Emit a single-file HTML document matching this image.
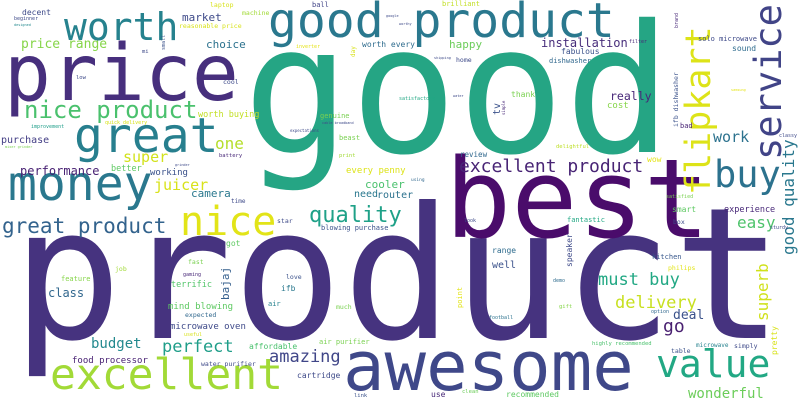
<!DOCTYPE html>
<html>
<head>
<meta charset="utf-8">
<style>
  html,body{margin:0;padding:0;background:#fff;}
  #cloud{display:block;width:800px;height:400px;}
  #cloud text{font-family:"DejaVu Sans Mono","Liberation Mono",monospace;}
</style>
</head>
<body>
<svg id="cloud" width="800" height="400" viewBox="0 0 800 400" xmlns="http://www.w3.org/2000/svg">
  <rect width="800" height="400" fill="#ffffff"/>
</svg>
<script>
// Word cloud data: words and their relative frequencies (font sizes)
const words = ["product","good","best","price","awesome","excellent","money","great","worth","good product",
"nice","value","buy","flipkart","service","nice product","quality","great product","excellent product","good quality",
"must buy","delivery","superb","go","wonderful","deal","easy","amazing","perfect","budget",
"class","bajaj","food processor","mind blowing","microwave oven","terrific","juicer","camera","super","one",
"performance","purchase","price range","decent","market","choice","worth buying","better","working","genuine",
"cooler","every penny","need","router","beast","worth every","happy","installation","fabulous","dishwasher",
"sound","solo microwave","really","cost","thank","tv","work","review","bad","brilliant",
"home","ifb dishwasher","delightful","wow","satisfied","smart","experience","fantastic","speaker","range",
"well","kitchen","philips","box","microwave","simply","table","pretty","highly recommended","recommended",
"use","clean","option","football","demo","gift","look","point","sturdy","feature",
"job","fast","gaming","got","ifb","love","air","much","expected","useful",
"affordable","air purifier","water purifier","cartridge","star","time","blowing purchase","link","laptop","machine",
"ball","reasonable price","beginner","designed","mi","low","cool","inverter","improvement","quick delivery",
"battery","print","cable broadband","expectations","mixer grinder","grinder","filter","shipping","satisfactory","water",
"simple","classy","samsung","using","worthy","google","day","small","brand"];
const sizes = [183,178,110,78,69,43,48,48,38,48,
40,38,37,35,37,24,22,21,18,16,
17,17,16,18,14,13,16,17,17,14,
12,11,9,9,9,8.5,15,11,15,16,
12,10,13,8,11,11,8.5,8.5,9,7,
11,9,10,10,7,8,11,12,8,7,
8,7,11.5,9,8,10,15,7.5,7,7,
6.5,6.5,5.5,8,5,8,8.5,7,8,8,
10,7,6.5,6.5,6,6.5,6.5,8,5.5,8,
8,5.5,5,5,5,5.5,5,7,5,7,
6.5,6.5,5,8,8,6.5,7,6.5,6.5,5,
8,7,6.5,8,6.5,6,7,5.5,6.5,6.5,
7,6.5,5,3.5,5.5,5.5,6.5,5,5,5,
5.5,5.5,3.5,4,3.5,3.5,5,3.5,5,3.5,
4,5,3.5,4.5,3.5,3.5,6,5,5];
const colors = ["#46337f","#25a584","#4a0c6b","#472f7d","#3f4889","#a2da37","#2a788e","#277f8e","#26828e","#2a788e",
"#e2e418","#22a884","#2c728e","#dde318","#414487","#4ac16d","#1fa188","#33638d","#482475","#2a788e",
"#22a884","#c8e020","#d0e11c","#481f70","#6ccd5a","#3b528b","#4ec36b","#404688","#1f9e89","#23898e",
"#31678e","#355f8d","#482173","#5ec962","#3e4989","#52c569","#d8e219","#2a788e","#d2e21b","#b5de2b",
"#482173","#433e85","#86d549","#3e4a89","#3e4a89","#2c728e","#c2df23","#5ec962","#3b528b","#7ad151",
"#4ac16d","#dde318","#2a788e","#2c728e","#7ad151","#2f6c8e","#6ccd5a","#472d7b","#3b528b","#31688e",
"#2f6c8e","#3e4a89","#482878","#86d549","#7ad151","#3b528b","#2c728e","#31688e","#482475","#c2df23",
"#3e4a89","#3b528b","#bddf26","#e5e419","#7ad151","#5ec962","#482878","#22a884","#3e4a89","#2f6c8e",
"#3b528b","#38588c","#e2e418","#3e4a89","#26828e","#3e4989","#3b528b","#d8e219","#4ac16d","#5ec962",
"#482878","#6ccd5a","#31688e","#2c728e","#2f6c8e","#86d549","#3e4a89","#e2e418","#3e4a89","#86d549",
"#a2da37","#7ad151","#482878","#5ec962","#2a788e","#3b528b","#26828e","#7ad151","#31688e","#d8e219",
"#4ac16d","#7ad151","#3e4989","#3e4a89","#3e4a89","#3e4a89","#3b528b","#3b528b","#d8e219","#a2da37",
"#414487","#d8e219","#3e4a89","#23898e","#3e4a89","#3e4a89","#3e4a89","#e5e419","#1f9e89","#d8e219",
"#482878","#a2da37","#3e4a89","#3e4a89","#7ad151","#3e4a89","#482878","#3e4a89","#22a884","#3e4a89",
"#482878","#3e4a89","#e5e419","#31688e","#3e4a89","#3e4a89","#d8e219","#3b528b","#482878"];
</script>
<script>
// Layout (placement of each word): [x, baseline y, rotated]
const layout = [[12,338,0],[243,152,0],[445,237,0],[4,100,0],[343,390,0],[50,389,0],[8,200,0],[74,152,0],[64,40,0],[268,37,0],
[180,235,0],[656,377,0],[714,187,0],[710,195,1],[781,160,1],[24,118,0],[309,222,0],[2,233,0],[459,172,0],[794,255,1],
[598,285,0],[615,308,0],[768,321,1],[663,332,0],[688,398,0],[673,319,0],[737,228,0],[269,362,0],[162,352,0],[91,348,0],
[48,297,0],[229,300,1],[72,363,0],[168,309,0],[170,329,0],[171,287,0],[154,190,0],[191,197,0],[123,162,0],[215,149,0],
[20,175,0],[1,143,0],[21,48,0],[22,15,0],[182,21,0],[206,48,0],[198,117,0],[111,171,0],[150,175,0],[320,118,0],
[365,188,0],[346,173,0],[354,197,0],[377,198,0],[339,140,0],[362,47,0],[449,48,0],[541,47,0],[561,54,0],[549,63,0],
[732,51,0],[698,41,0],[610,100,0],[607,108,0],[511,97,0],[500,115,1],[713,142,0],[460,157,0],[680,128,0],[442,6,0],
[456,62,0],[678,127,1],[556,148,0],[647,162,0],[666,198,0],[672,212,0],[724,212,0],[567,222,0],[572,267,1],[492,253,0],
[492,268,0],[652,259,0],[668,270,0],[673,224,0],[696,347,0],[734,348,0],[671,353,0],[777,355,1],[592,345,0],[506,397,0],
[431,397,0],[462,393,0],[651,313,0],[489,319,0],[553,282,0],[559,308,0],[464,222,0],[462,308,1],[770,229,0],[61,281,0],
[115,271,0],[188,264,0],[183,276,0],[226,246,0],[281,291,0],[286,279,0],[268,306,0],[336,309,0],[185,317,0],[184,336,0],
[249,349,0],[319,344,0],[201,366,0],[297,378,0],[277,223,0],[231,203,0],[321,230,0],[354,397,0],[210,7,0],[242,15,0],
[312,7,0],[179,28,0],[14,20,0],[14,26,0],[142,53,0],[76,79,0],[223,84,0],[296,48,0],[31,128,0],[105,124,0],
[219,157,0],[339,157,0],[322,124,0],[290,132,0],[5,148,0],[175,166,0],[629,43,0],[434,59,0],[399,100,0],[453,97,0],
[505,115,1],[779,137,0],[731,91,0],[411,181,0],[399,25,0],[386,17,0],[355,57,1],[165,50,1],[678,28,1]];

const svg = document.getElementById('cloud');
const NS = 'http://www.w3.org/2000/svg';
for (let i = 0; i < words.length; i++) {
  const p = layout[i] || [0, 0, 0];
  const t = document.createElementNS(NS, 'text');
  t.textContent = words[i];
  t.setAttribute('font-size', sizes[i]);
  t.setAttribute('fill', colors[i] || '#3e4a89');
  if (p[2]) {
    t.setAttribute('transform', 'translate(' + p[0] + ',' + p[1] + ') rotate(-90)');
  } else {
    t.setAttribute('x', p[0]);
    t.setAttribute('y', p[1]);
  }
  
  
  svg.appendChild(t);
}
</script>
</body>
</html>
